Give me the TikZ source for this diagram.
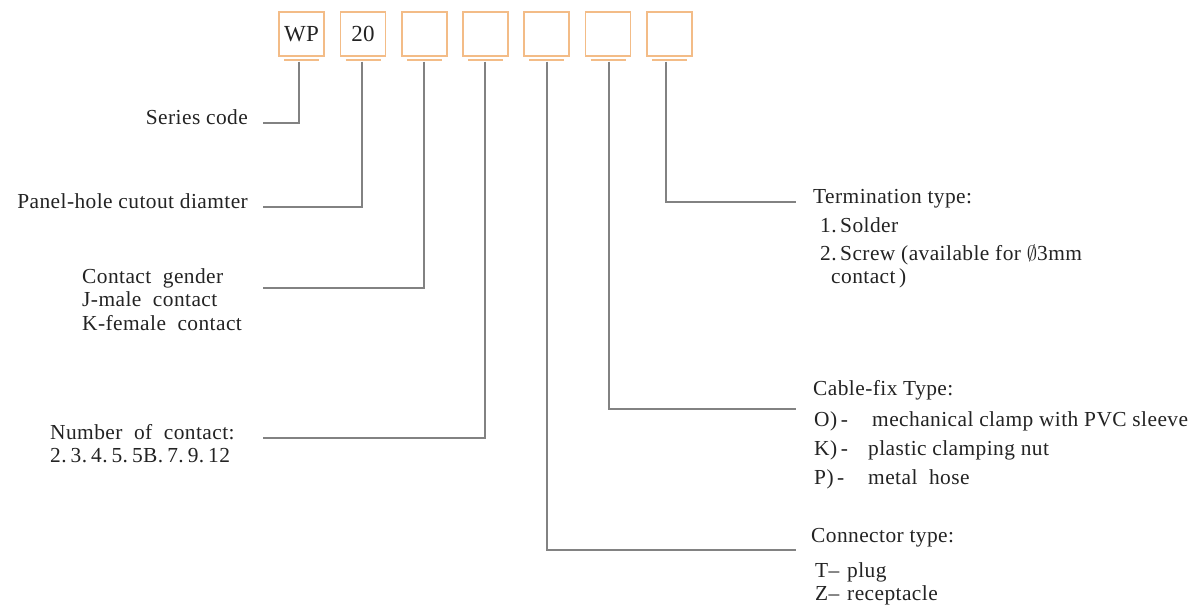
\documentclass[tikz,border=0pt]{standalone}
\usepackage{fontspec}
\setmainfont{Liberation Serif}[LetterSpace=2]
\begin{document}
\begin{tikzpicture}[x=1pt,y=-1pt,
  cbox/.style={draw=boxorange,line width=1.3pt,minimum width=45pt,minimum height=44pt,inner sep=0pt,
    font=\fontsize{23}{27}\selectfont,text=txt},
  bar/.style={draw=boxorange,line width=2.2pt},
  conn/.style={draw=linegray,line width=1.2pt},
  lbl/.style={inner sep=0pt,font=\fontsize{21.4}{25}\selectfont,text=txt}]
\definecolor{boxorange}{RGB}{243,188,135}
\definecolor{linegray}{RGB}{130,130,130}
\definecolor{txt}{RGB}{35,35,35}
\useasboundingbox[fill=white] (0,0) rectangle (1192,606);
% boxes
\foreach \n/\cx/\t in {1/301.5/WP,2/363/20,3/424.5/,4/485.5/,5/546.5/,6/608/,7/669.5/}{
  \node[cbox] (b\n) at (\cx,34) {\t};
  \draw[bar] (\cx-17.5,60) -- (\cx+17.5,60);
}
% connector start points
\coordinate (t1) at (299,61.5);
\coordinate (t2) at (362,61.5);
\coordinate (t3) at (424,61.5);
\coordinate (t4) at (485,61.5);
\coordinate (t5) at (547,61.5);
\coordinate (t6) at (609,61.5);
\coordinate (t7) at (666,61.5);
% connector end points
\coordinate (e1) at (263,123);
\coordinate (e2) at (263,207);
\coordinate (e3) at (263,288);
\coordinate (e4) at (263,438);
\coordinate (e5) at (796,550);
\coordinate (e6) at (796,409);
\coordinate (e7) at (796,202);
\draw[conn] (t1) |- (e1);
\draw[conn] (t2) |- (e2);
\draw[conn] (t3) |- (e3);
\draw[conn] (t4) |- (e4);
\draw[conn] (t5) |- (e5);
\draw[conn] (t6) |- (e6);
\draw[conn] (t7) |- (e7);
% left labels
\node[lbl,anchor=base east] (l1) at (248,124) {Series code};
\node[lbl,anchor=base east] (l2) at (248,208) {Panel-hole cutout diamter};
\node[lbl,anchor=base west] (l3a) at (82,283) {Contact\ \ gender};
\node[lbl,anchor=base west] (l3b) at (82,306) {J-male\ \ contact};
\node[lbl,anchor=base west] (l3c) at (82,330) {K-female\ \ contact};
\node[lbl,anchor=base west] (l4a) at (50,439) {Number\ \ of\ \ contact:};
\node[lbl,anchor=base west] (l4b) at (50,462) {2.\hspace{4pt}3.\hspace{4pt}4.\hspace{4pt}5.\hspace{4pt}5B.\hspace{4pt}7.\hspace{4pt}9.\hspace{4pt}12};
% right labels
\node[lbl,anchor=base west] (l7a) at (813,203) {Termination type:};
\node[lbl,anchor=base west] (l7b) at (820,232) {1.\,Solder};
\node[lbl,anchor=base west] (l7c) at (820,260) {2.\,Screw (available for $\emptyset$3mm};
\node[lbl,anchor=base west] (l7d) at (831,283) {contact\,)};
\node[lbl,anchor=base west] (l6a) at (813,395) {Cable-fix Type:};
\node[lbl,anchor=base west] (l6b) at (814,426) {\makebox[58pt][l]{O)\,-}mechanical clamp with PVC sleeve};
\node[lbl,anchor=base west] (l6c) at (814,455) {\makebox[54pt][l]{K)\,-}plastic clamping nut};
\node[lbl,anchor=base west] (l6d) at (814,484) {\makebox[54pt][l]{P)\,-}metal\ \ hose};
\node[lbl,anchor=base west] (l5a) at (811,542) {Connector type:};
\node[lbl,anchor=base west] (l5b) at (815,577) {\makebox[32pt][l]{T--}plug};
\node[lbl,anchor=base west] (l5c) at (815,600) {\makebox[32pt][l]{Z--}receptacle};
\end{tikzpicture}
\end{document}
